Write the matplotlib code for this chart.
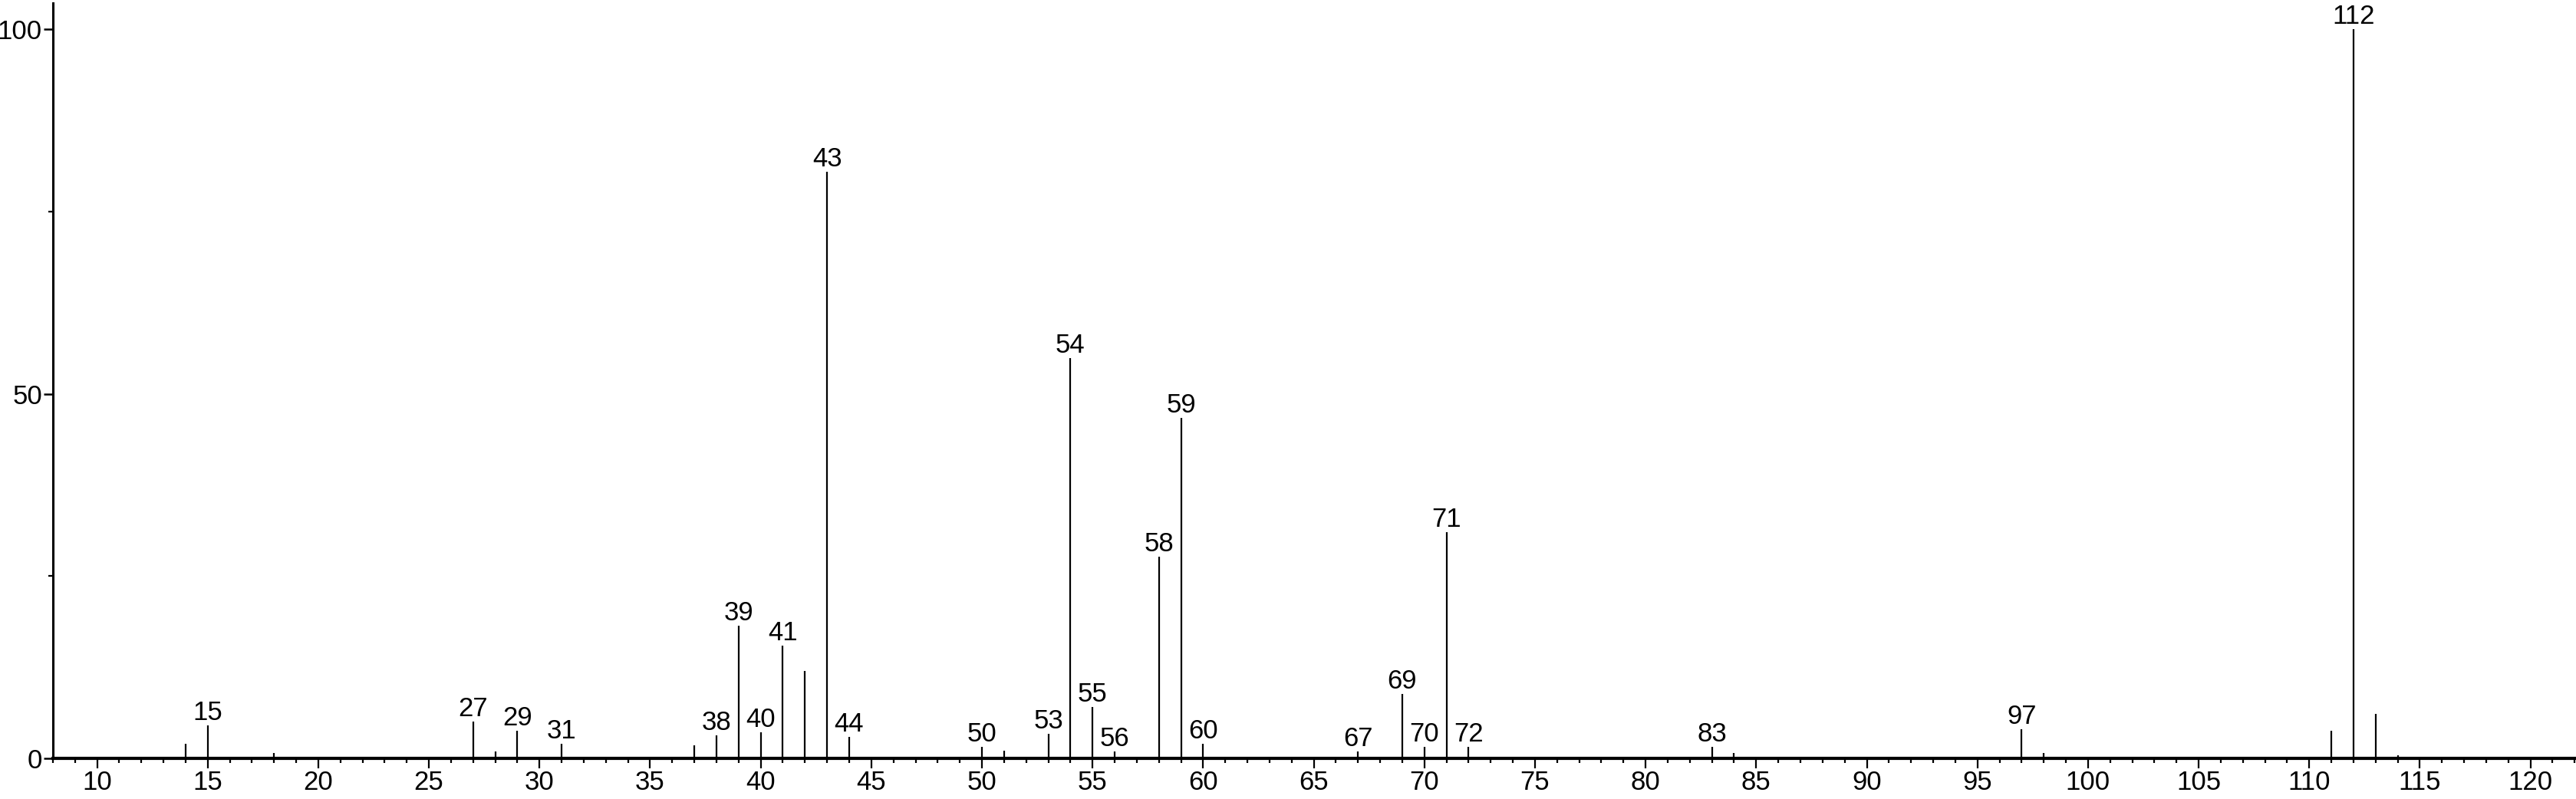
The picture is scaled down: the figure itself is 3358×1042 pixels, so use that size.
import matplotlib
matplotlib.use("Agg")
import matplotlib.pyplot as plt
from matplotlib.ticker import MultipleLocator

plt.rcParams['font.family'] = ['Liberation Sans', 'DejaVu Sans']

mz = [14, 15, 18, 27, 28, 29, 31, 37, 38, 39, 40, 41, 42, 43, 44, 50, 51, 53, 54, 55,
      56, 58, 59, 60, 67, 69, 70, 71, 72, 83, 84, 97, 98, 111, 112, 113, 114]
intensity = [2.0, 4.5, 0.7, 5.0, 0.9, 3.8, 2.0, 1.8, 3.2, 18.2, 3.6, 15.5, 12.0, 80.5, 2.9,
             1.6, 1.1, 3.4, 54.9, 7.0, 0.9, 27.7, 46.7, 2.0, 0.9, 8.8, 1.6, 31.0, 1.6, 1.6,
             0.7, 4.0, 0.7, 3.8, 100.0, 6.1, 0.4]
labeled = [15, 27, 29, 31, 38, 39, 40, 41, 43, 44, 50, 53, 54, 55, 56, 58, 59, 60,
           67, 69, 70, 71, 72, 83, 97, 112]

fig = plt.figure(figsize=(33.58, 10.42), dpi=100)
ax = fig.add_axes([0.0205, 0.0509, 0.979, 0.945])

ax.vlines(mz, 0, intensity, colors='black', linewidth=1.6)
for m, v in zip(mz, intensity):
    if m in labeled:
        ax.annotate(str(m), (m, v), xytext=(0, 0), textcoords='offset points',
                    ha='center', va='bottom', fontsize=25, color='black')

ax.set_xlim(8, 122)
ax.set_ylim(0, 103.6)
ax.xaxis.set_major_locator(MultipleLocator(5))
ax.xaxis.set_minor_locator(MultipleLocator(1))
ax.set_yticks([0, 50, 100])
ax.set_yticks([25, 75], minor=True)

for s in ['top', 'right']:
    ax.spines[s].set_visible(False)
ax.spines['left'].set_linewidth(2.2)
ax.spines['bottom'].set_linewidth(3)
ax.tick_params(axis='x', which='major', length=9, width=1.6, labelsize=25, pad=2, direction='out')
ax.tick_params(axis='y', which='major', length=9, width=1.8, labelsize=25, pad=1, direction='out')
ax.tick_params(axis='both', which='minor', length=4, width=1.6, direction='out')

fig.savefig('out.png', dpi=100, facecolor='white')
